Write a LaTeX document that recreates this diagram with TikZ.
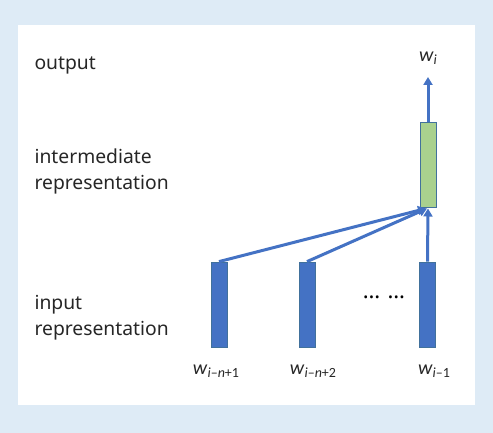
\documentclass[tikz,border=0pt]{standalone}
\usepackage{fontspec}
\setmainfont{Noto Sans}
\newfontfamily\carl{Carlito}
\usetikzlibrary{arrows.meta}
\definecolor{bgblue}{HTML}{DEEBF6}
\definecolor{boxblue}{HTML}{4472C4}
\definecolor{edgeblue}{HTML}{41719C}
\definecolor{lgreen}{HTML}{A9D18E}
\definecolor{txt}{HTML}{262626}
\tikzset{
  inbox/.style={draw=edgeblue, fill=boxblue, line width=0.8pt, minimum width=16pt, minimum height=85pt, inner sep=0pt},
  midbox/.style={draw=edgeblue, fill=lgreen, line width=1pt, minimum width=16pt, minimum height=85pt, inner sep=0pt},
  conn/.style={draw=boxblue, line width=3pt, -{Triangle[length=8pt,width=9pt]}},
  lbl/.style={anchor=west, align=left, text=txt, font=\fontsize{19.3}{26}\selectfont},
  wlbl/.style={text=txt, font=\carl\fontsize{20}{22}\selectfont}
}
\newcommand{\wsub}[1]{\textit{w}\raisebox{-0.35ex}{\fontsize{14}{15}\selectfont #1}}
\begin{document}
\begin{tikzpicture}[x=1pt,y=-1pt]
  \fill[bgblue] (0,0) rectangle (493,433);
  \fill[white] (18,25) rectangle (475,405);
  % left labels
  \node[lbl] (lout) at (31,65) {output};
  \node[lbl] (lmid) at (31,171) {intermediate\\representation};
  \node[lbl] (lin) at (31,318) {input\\representation};
  % boxes
  \node[inbox] (b1) at (219,304.5) {};
  \node[inbox] (b2) at (307,304.5) {};
  \node[inbox] (b3) at (427.5,304.5) {};
  \node[midbox] (g) at (428,165.5) {};
  \coordinate (top) at (428,77);
  % connectors
  \draw[conn] (b1.north) -- ([xshift=-2pt]g.south);
  \draw[conn] (b2.north) -- ([xshift=-1pt]g.south);
  \draw[conn] (b3.north) -- (g.south);
  \draw[conn] (g.north) -- (top);
  % word labels
  \node[wlbl] (wout) at (428,58) {\wsub{\textit{i}}};
  \node[wlbl] (w1) at (216,371) {\wsub{\textit{i}–\textit{n}+1}};
  \node[wlbl] (w2) at (313,371) {\wsub{\textit{i}–\textit{n}+2}};
  \node[wlbl] (w3) at (434,371) {\wsub{\textit{i}–1}};
  \node[text=black, font=\fontsize{22}{22}\selectfont\bfseries] (dots) at (384,297) {…\,\,…};
\end{tikzpicture}
\end{document}
